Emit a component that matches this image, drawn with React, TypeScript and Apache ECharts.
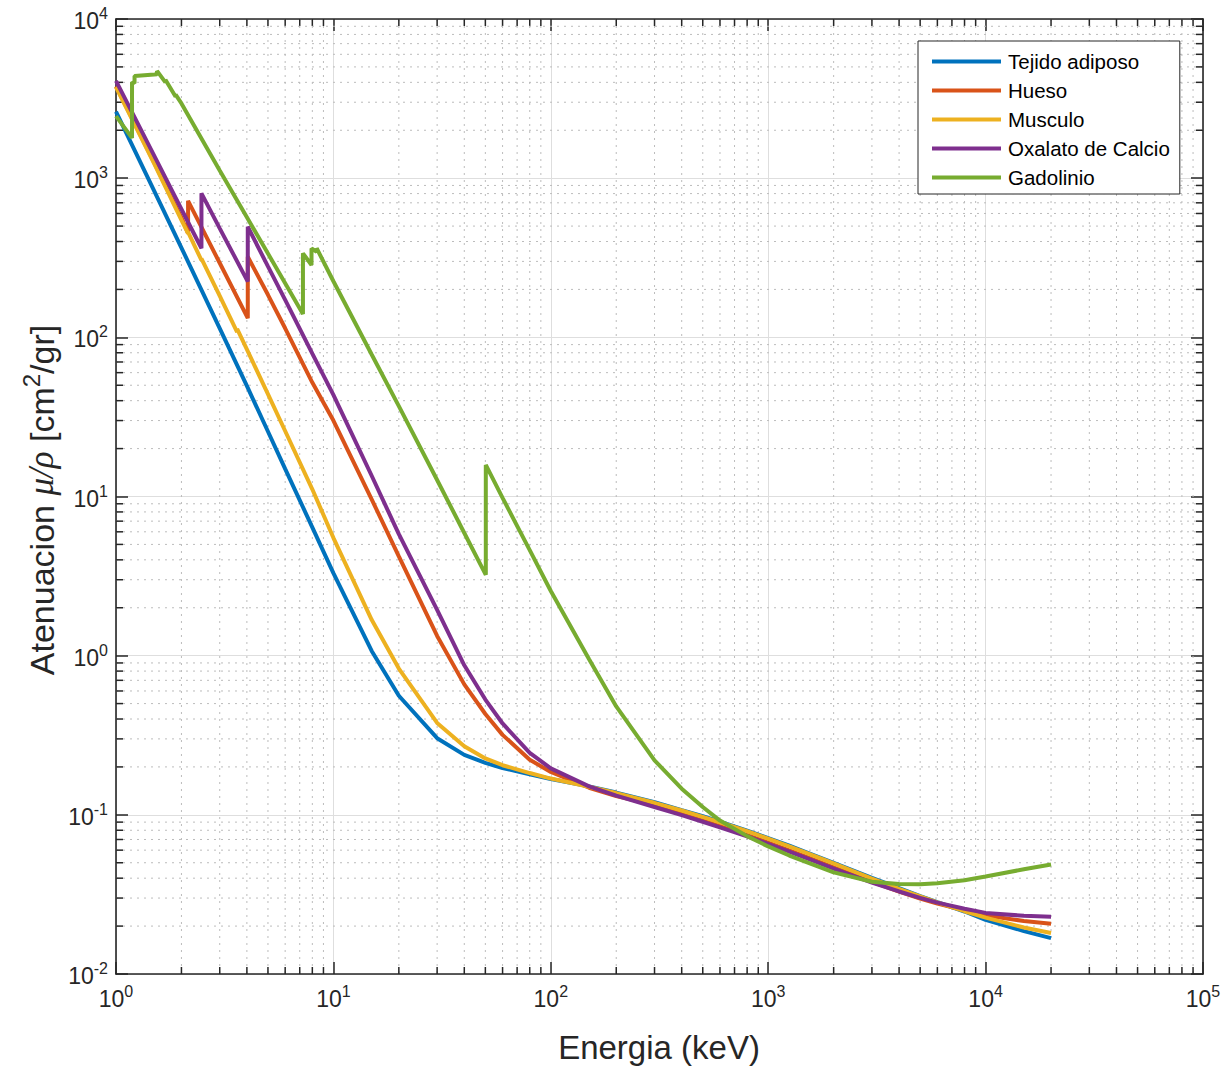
import React, { useEffect, useRef } from "react";
import * as echarts from "echarts";

const FONT = '"Liberation Sans", Arial, Helvetica, sans-serif';
const AXIS_COLOR = "#262626";

const seriesNames = ["Tejido adiposo", "Hueso", "Musculo", "Oxalato de Calcio", "Gadolinio"];
const seriesColors = ["#0072BD", "#D95319", "#EDB120", "#7E2F8E", "#77AC30"];

// Energies (keV) and mass attenuation coefficients (cm2/g)
const adiposoE = [1, 1.5, 2, 3, 4, 5, 6, 8, 10, 15, 20, 30, 40, 50, 60, 80, 100, 150, 200, 300, 400, 500, 600, 800, 1000, 1250, 1500, 2000, 3000, 4000, 5000, 6000, 8000, 10000, 15000, 20000];
const adiposoMu = [2620, 830, 365, 114, 49.5, 25.6, 14.9, 6.4, 3.3, 1.07, 0.56, 0.303, 0.238, 0.212, 0.197, 0.18, 0.168, 0.151, 0.138, 0.12, 0.107, 0.098, 0.0905, 0.0795, 0.0715, 0.064, 0.0582, 0.05, 0.0402, 0.0346, 0.0309, 0.0283, 0.0247, 0.0219, 0.0186, 0.0168];

const huesoE = [1, 1.5, 2, 2.1455, 2.1455, 3, 4.038, 4.038, 5, 6, 8, 10, 15, 20, 30, 40, 50, 60, 80, 100, 150, 200, 300, 400, 500, 600, 800, 1000, 1250, 1500, 2000, 3000, 4000, 5000, 6000, 8000, 10000, 15000, 20000];
const huesoMu = [3780, 1250, 565, 450, 720, 293, 132, 321, 185, 114, 52, 30, 9.6, 4.2, 1.33, 0.66, 0.43, 0.318, 0.222, 0.186, 0.148, 0.131, 0.115, 0.101, 0.092, 0.085, 0.0746, 0.0668, 0.0598, 0.0544, 0.0467, 0.0379, 0.0329, 0.0298, 0.0277, 0.0251, 0.0234, 0.0215, 0.0207];

const musculoE = [1, 1.5, 2, 2.1455, 2.1455, 2.472, 2.472, 3, 3.6074, 3.6074, 4, 5, 6, 8, 10, 15, 20, 30, 40, 50, 60, 80, 100, 150, 200, 300, 400, 500, 600, 800, 1000, 1250, 1500, 2000, 3000, 4000, 5000, 6000, 8000, 10000, 15000, 20000];
const musculoMu = [3740, 1230, 545, 450, 458, 305, 312, 182, 108, 113, 84, 44, 25.8, 11.1, 5.5, 1.68, 0.83, 0.378, 0.27, 0.226, 0.205, 0.183, 0.169, 0.15, 0.137, 0.119, 0.1065, 0.097, 0.0898, 0.0789, 0.0709, 0.0634, 0.0577, 0.0495, 0.0398, 0.0343, 0.0307, 0.0282, 0.0248, 0.0226, 0.0196, 0.0181];

const oxalatoE = [1, 1.5, 2, 2.472, 2.472, 3, 4.038, 4.038, 5, 6, 8, 10, 15, 20, 30, 40, 50, 60, 80, 100, 150, 200, 300, 400, 500, 600, 800, 1000, 1250, 1500, 2000, 3000, 4000, 5000, 6000, 8000, 10000, 15000, 20000];
const oxalatoMu = [4090, 1380, 638, 363, 803, 484, 224, 495, 279, 172, 79, 43.5, 13.5, 5.8, 1.94, 0.87, 0.53, 0.375, 0.245, 0.196, 0.151, 0.132, 0.112, 0.0995, 0.0905, 0.0835, 0.0733, 0.0656, 0.0588, 0.0535, 0.046, 0.0375, 0.033, 0.0301, 0.0281, 0.0257, 0.0242, 0.0232, 0.0229];

const gadolinioE = [1, 1.185, 1.185, 1.217, 1.217, 1.5, 1.544, 1.544, 1.688, 1.688, 1.881, 1.881, 2, 3, 4, 5, 6, 7.243, 7.243, 7.93, 7.93, 8.376, 8.376, 10, 15, 20, 30, 40, 50.24, 50.24, 60, 80, 100, 150, 200, 300, 400, 500, 600, 800, 1000, 1250, 1500, 2000, 3000, 4000, 5000, 6000, 8000, 10000, 15000, 20000];
const gadolinioMu = [2455, 1790, 4000, 3950, 4380, 4480, 4500, 4720, 4000, 4150, 3250, 3350, 2950, 1117, 568, 336, 219, 140, 337, 285, 362, 345, 363, 225, 78, 37, 12.7, 5.9, 3.22, 15.8, 9.8, 4.6, 2.55, 0.95, 0.48, 0.22, 0.146, 0.112, 0.092, 0.0735, 0.0633, 0.0555, 0.0505, 0.0435, 0.038, 0.0368, 0.0366, 0.0372, 0.0388, 0.041, 0.0455, 0.0488];

const xTickExponents = [0, 1, 2, 3, 4, 5];
const yTickExponents = [-2, -1, 0, 1, 2, 3, 4];

const seriesE = [adiposoE, huesoE, musculoE, oxalatoE, gadolinioE];
const seriesMu = [adiposoMu, huesoMu, musculoMu, oxalatoMu, gadolinioMu];

function minorValues(exps: number[]): number[] {
  const out: number[] = [];
  for (let i = 0; i < exps.length - 1; i++) {
    for (let m = 2; m <= 9; m++) out.push(m * Math.pow(10, exps[i]));
  }
  return out;
}

const tickRich = {
  b: { fontSize: 23, fontFamily: FONT, color: AXIS_COLOR, verticalAlign: "bottom" },
  s: { fontSize: 16, fontFamily: FONT, color: AXIS_COLOR, verticalAlign: "bottom", padding: [0, 0, 11, 0] },
};

function powLabel(v: number) {
  const e = Math.round(Math.log10(v));
  return `{b|10}{s|${e}}`;
}

export default function App() {
  const ref = useRef<HTMLDivElement>(null);
  useEffect(() => {
    if (!ref.current) return;
    const chart = echarts.init(ref.current, null, { renderer: "svg" });
    const xMin = Math.pow(10, xTickExponents[0]);
    const xMax = Math.pow(10, xTickExponents[xTickExponents.length - 1]);
    const yMin = Math.pow(10, yTickExponents[0]);
    const yMax = Math.pow(10, yTickExponents[yTickExponents.length - 1]);
    const minorX = minorValues(xTickExponents);
    const minorY = minorValues(yTickExponents);

    const lineSeries = seriesNames.map((name, i) => ({
      type: "line",
      name,
      data: seriesE[i].map((e, j) => [e, seriesMu[i][j]]),
      symbol: "none",
      showSymbol: false,
      lineStyle: { width: 4, color: seriesColors[i] },
      itemStyle: { color: seriesColors[i] },
      z: 3,
      xAxisIndex: 0,
      yAxisIndex: 0,
    }));

    const minorXSeries = {
      type: "custom",
      xAxisIndex: 0,
      yAxisIndex: 0,
      z: 1,
      silent: true,
      data: minorX.map((v) => [v, 1]),
      renderItem: (params: any, api: any) => {
        const cs = params.coordSys;
        const x = api.coord([api.value(0), 1])[0];
        return {
          type: "group",
          children: [
            { type: "line", shape: { x1: x, y1: cs.y, x2: x, y2: cs.y + cs.height }, style: { stroke: "#bcbcbc", lineWidth: 1, lineDash: [2, 5] } },
            { type: "line", shape: { x1: x, y1: cs.y + cs.height, x2: x, y2: cs.y + cs.height - 7 }, style: { stroke: AXIS_COLOR, lineWidth: 1.5 } },
            { type: "line", shape: { x1: x, y1: cs.y, x2: x, y2: cs.y + 7 }, style: { stroke: AXIS_COLOR, lineWidth: 1.5 } },
          ],
        };
      },
    };
    const minorYSeries = {
      type: "custom",
      xAxisIndex: 0,
      yAxisIndex: 0,
      z: 1,
      silent: true,
      data: minorY.map((v) => [10, v]),
      renderItem: (params: any, api: any) => {
        const cs = params.coordSys;
        const y = api.coord([10, api.value(1)])[1];
        return {
          type: "group",
          children: [
            { type: "line", shape: { x1: cs.x, y1: y, x2: cs.x + cs.width, y2: y }, style: { stroke: "#bcbcbc", lineWidth: 1, lineDash: [2, 5] } },
            { type: "line", shape: { x1: cs.x, y1: y, x2: cs.x + 7, y2: y }, style: { stroke: AXIS_COLOR, lineWidth: 1.5 } },
            { type: "line", shape: { x1: cs.x + cs.width, y1: y, x2: cs.x + cs.width - 7, y2: y }, style: { stroke: AXIS_COLOR, lineWidth: 1.5 } },
          ],
        };
      },
    };

    const baseX = {
      type: "log",
      logBase: 10,
      min: xMin,
      max: xMax,
      splitNumber: xTickExponents.length - 1,
      axisLine: { show: true, lineStyle: { color: AXIS_COLOR, width: 1.6 } },
      axisTick: { show: true, inside: true, length: 12, lineStyle: { color: AXIS_COLOR, width: 1.5 } },
    };
    const baseY = {
      type: "log",
      logBase: 10,
      min: yMin,
      max: yMax,
      splitNumber: yTickExponents.length - 1,
      axisLine: { show: true, lineStyle: { color: AXIS_COLOR, width: 1.6 } },
      axisTick: { show: true, inside: true, length: 12, lineStyle: { color: AXIS_COLOR, width: 1.5 } },
    };

    chart.setOption({
      animation: false,
      backgroundColor: "#ffffff",
      grid: { left: 116, top: 19, width: 1087, height: 955, containLabel: false },
      xAxis: [
        {
          ...baseX,
          position: "bottom",
          axisLabel: { show: true, formatter: powLabel, rich: tickRich, margin: 9 },
          splitLine: { show: true, lineStyle: { color: "#dedede", width: 1 } },
        },
        {
          ...baseX,
          position: "top",
          axisLabel: { show: false },
          splitLine: { show: false },
        },
      ],
      yAxis: [
        {
          ...baseY,
          position: "left",
          axisLabel: { show: true, formatter: powLabel, rich: tickRich, margin: 8 },
          splitLine: { show: true, lineStyle: { color: "#dedede", width: 1 } },
        },
        {
          ...baseY,
          position: "right",
          axisLabel: { show: false },
          splitLine: { show: false },
        },
      ],
      legend: {
        data: seriesNames.map((n) => ({ name: n, icon: "rect" })),
        orient: "vertical",
        left: 918,
        top: 41,
        padding: [10, 10, 6, 14],
        itemWidth: 69,
        itemHeight: 4,
        itemGap: 8,
        backgroundColor: "#ffffff",
        borderColor: AXIS_COLOR,
        borderWidth: 1,
        borderRadius: 0,
        textStyle: { fontSize: 20.5, fontFamily: FONT, color: "#000000", padding: [0, 0, 0, 2], lineHeight: 20 },
        selectedMode: false,
      },
      graphic: [
        {
          type: "text",
          x: 659,
          y: 1047,
          style: { text: "Energia (keV)", font: `33px ${FONT}`, fill: AXIS_COLOR, align: "center", verticalAlign: "middle" },
        },
        {
          type: "text",
          x: 39,
          y: 500,
          rotation: Math.PI / 2,
          style: {
            text: "{a|Atenuacion }{i|μ/ρ}{a| [cm}{s|2}{a|/gr]}",
            align: "center",
            verticalAlign: "middle",
            fill: AXIS_COLOR,
            rich: {
              a: { fontSize: 34, fontFamily: FONT, fill: AXIS_COLOR, color: AXIS_COLOR, verticalAlign: "bottom" },
              i: { fontSize: 35, fontFamily: '"Liberation Serif", "DejaVu Serif", serif', fontStyle: "italic", fill: AXIS_COLOR, color: AXIS_COLOR, verticalAlign: "bottom" },
              s: { fontSize: 24, fontFamily: FONT, fill: AXIS_COLOR, color: AXIS_COLOR, verticalAlign: "bottom", padding: [0, 0, 15, 0] },
            },
          },
        },
      ],
      series: [...lineSeries, minorXSeries, minorYSeries],
    });
    return () => chart.dispose();
  }, []);
  return <div ref={ref} style={{ position: "fixed", left: 0, top: 0, width: 1230, height: 1066, background: "#fff" }} />;
}
